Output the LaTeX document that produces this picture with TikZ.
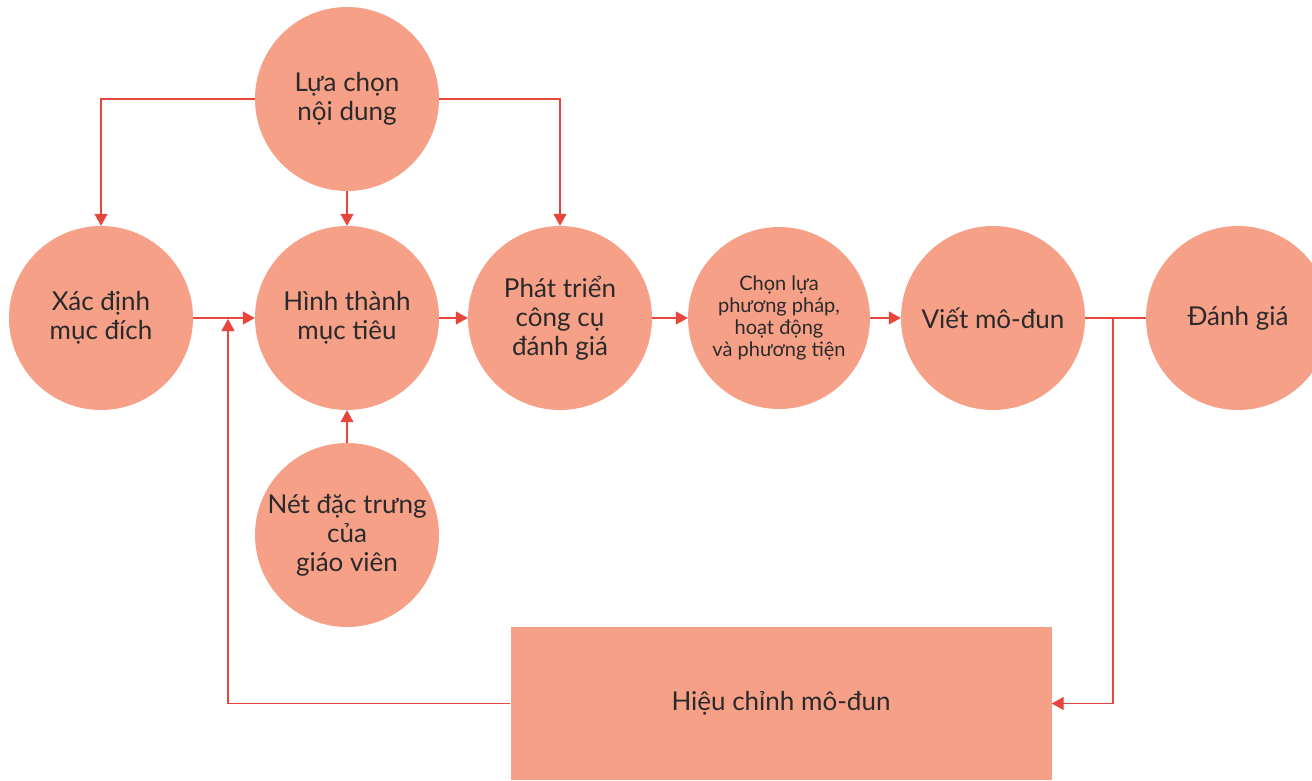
\documentclass[tikz,border=0pt]{standalone}
\usepackage{fontspec}
\setmainfont{Lato}
\usetikzlibrary{arrows.meta}
\definecolor{salmon}{HTML}{F6A088}
\definecolor{linkred}{HTML}{E8453C}
\definecolor{ink}{HTML}{2A2A2A}

\begin{document}
\begin{tikzpicture}[x=1pt, y=-1pt,
  blob/.style={circle, fill=salmon, minimum size=184pt, inner sep=0pt,
    align=center, text=ink, font=\fontsize{26}{29}\selectfont},
  link/.style={draw=linkred, line width=1.2pt, -{Triangle[width=13pt,length=12pt]}},
  bare/.style={draw=linkred, line width=1.2pt}]
\useasboundingbox (0,0) rectangle (1312,780);

  \node[blob] (lc) at (347,99) {Lựa chọn\\nội dung};
  \node[blob] (xd) at (101,318) {Xác định\\mục đích};
  \node[blob] (ht) at (347,318) {Hình thành\\mục tiêu};
  \node[blob] (pt) at (560,318) {Phát triển\\công cụ\\đánh giá};
  \node[blob, minimum size=182pt, font=\fontsize{20}{22}\selectfont] (cl) at (779,318)
    {Chọn lựa\\phương pháp,\\hoạt động\\và phương tiện};
  \node[blob] (vm) at (993,318) {Viết mô-đun};
  \node[blob] (dg) at (1238,318) {Đánh giá};
  \node[blob] (nd) at (347,535) {Nét đặc trưng\\của\\giáo viên};
  \node[fill=salmon, minimum width=541pt, minimum height=153pt, inner sep=0pt,
    text=ink, font=\fontsize{26}{29}\selectfont] (hc) at (781,703.5) {Hiệu chỉnh mô-đun};

  \coordinate (fb) at (228,319);
  \coordinate (br) at (1113,318);

  \draw[link] (lc.west) -| (xd.north);
  \draw[link] (lc.south) -- (ht.north);
  \draw[link] (lc.east) -| (pt.north);
  \draw[link] (xd.east) -- (ht.west);
  \draw[link] (ht.east) -- (pt.west);
  \draw[link] (pt.east) -- (cl.west);
  \draw[link] (cl.east) -- (vm.west);
  \draw[bare] (vm.east) -- (dg.west);
  \draw[link] (nd.north) -- (ht.south);
  \draw[link] (br) |- (hc.east);
  \draw[link] (hc.west) -| (fb);
\end{tikzpicture}
\end{document}
